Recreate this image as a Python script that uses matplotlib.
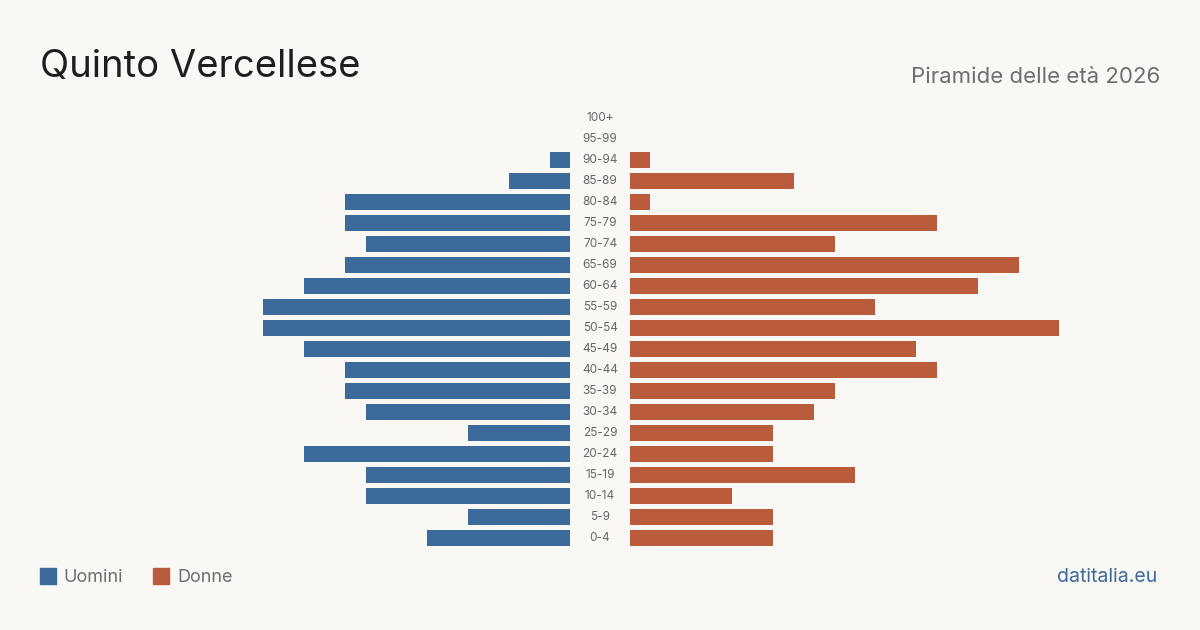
import numpy as np
import matplotlib.pyplot as plt
from matplotlib.patches import Rectangle

plt.rcParams['font.family'] = ['Inter', 'DejaVu Sans']

eta = ['0-4', '5-9', '10-14', '15-19', '20-24', '25-29', '30-34', '35-39',
       '40-44', '45-49', '50-54', '55-59', '60-64', '65-69', '70-74',
       '75-79', '80-84', '85-89', '90-94', '95-99', '100+']
uomini = [7, 5, 10, 10, 13, 5, 10, 11, 11, 13, 15, 15, 13, 11, 10, 11, 11, 3, 1, 0, 0]
donne = [7, 7, 5, 11, 7, 7, 9, 10, 15, 14, 21, 12, 17, 19, 10, 15, 1, 8, 1, 0, 0]

bg = '#f9f8f4'
blu = '#3b6a9b'
rosso = '#b95c3b'
W, H = 1200, 630

fig = plt.figure(figsize=(12, 6.3), dpi=100, facecolor=bg)

y = np.arange(len(eta))
scala = 20.45
xmax = 530 / scala
# axes in pixel coordinates: rows from y=117 (100+) to y=537 (0-4), 21 px each
top_px, bot_px = 118 - 10.5, 538 + 10.5
axl = fig.add_axes([40 / W, 1 - bot_px / H, 530 / W, (bot_px - top_px) / H])
axr = fig.add_axes([630 / W, 1 - bot_px / H, 530 / W, (bot_px - top_px) / H])

axl.barh(y, uomini, height=0.8, color=blu)
axl.set_xlim(xmax, 0)
axr.barh(y, donne, height=0.8, color=rosso)
axr.set_xlim(0, xmax)
for ax in (axl, axr):
    ax.set_ylim(-0.5, len(eta) - 0.5)
    ax.axis('off')
    ax.set_facecolor('none')

for i, lab in enumerate(eta):
    axr.text(-30 / scala, i, lab, ha='center', va='center', fontsize=8.5, color='#666666')

fig.text(40 / W, 1 - 67 / H, 'Quinto Vercellese', fontsize=27.5, color='#1e1e1e', va='center')
fig.text(1160 / W, 1 - 77 / H, 'Piramide delle età 2026', fontsize=16, color='#6e6e6e',
         va='center', ha='right')

fig.patches.append(Rectangle((40 / W, 1 - 584 / H), 16 / W, 16 / H, color=blu,
                             transform=fig.transFigure, figure=fig))
fig.text(63 / W, 1 - 577 / H, 'Uomini', fontsize=13, color='#6e6e6e', va='center')
fig.patches.append(Rectangle((153 / W, 1 - 584 / H), 16 / W, 16 / H, color=rosso,
                             transform=fig.transFigure, figure=fig))
fig.text(177 / W, 1 - 577 / H, 'Donne', fontsize=13, color='#6e6e6e', va='center')

fig.text(1157 / W, 1 - 577 / H, 'datitalia.eu', fontsize=14, color=blu, va='center', ha='right')

fig.savefig('out.png', dpi=100, facecolor=bg)
